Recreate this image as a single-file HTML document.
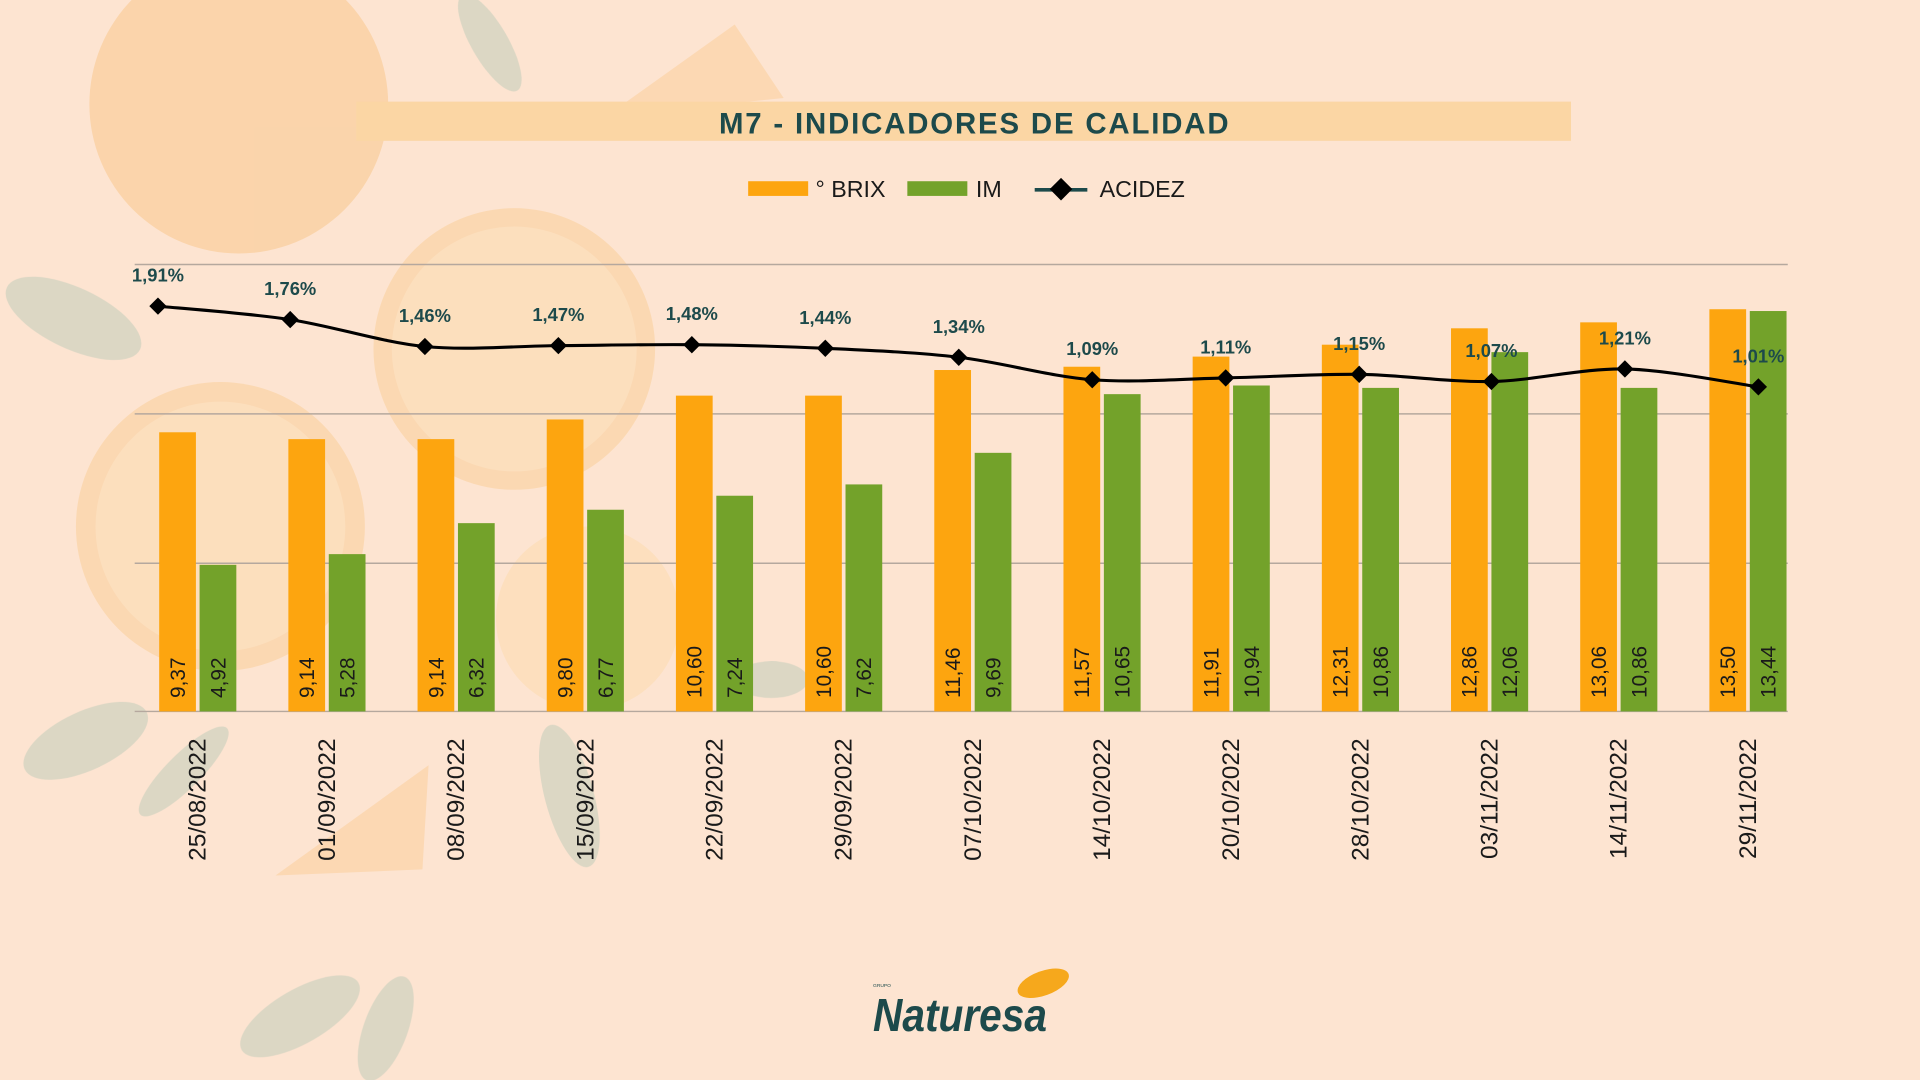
<!DOCTYPE html>
<html><head><meta charset="utf-8"><style>
html,body{margin:0;padding:0;width:1920px;height:1080px;overflow:hidden;background:#fde4d1}
svg{display:block}
text{font-family:"Liberation Sans",sans-serif}
</style></head><body>
<svg width="1920" height="1080" viewBox="0 0 1568 882" xmlns="http://www.w3.org/2000/svg">
<rect width="1568" height="882" fill="#fde4d1"/>
<g opacity="0.35">
<circle cx="195" cy="85" r="122" fill="#f6b865"/>
<circle cx="420" cy="285" r="115" fill="#f9c47a"/><circle cx="420" cy="285" r="100" fill="#fbd69a"/>
<circle cx="180" cy="430" r="118" fill="#f9c47a"/><circle cx="180" cy="430" r="102" fill="#fbd69a"/>
<circle cx="480" cy="505" r="75" fill="#fbd69a"/>
<path d="M495,95 L600,20 L640,80 Z" fill="#f9c47a"/>
<path d="M225,715 L350,625 L345,710 Z" fill="#f9c47a"/>
</g>
<g opacity="0.3">
<ellipse cx="60" cy="260" rx="60" ry="25" fill="#8fb9a8" transform="rotate(25 60 260)"/>
<ellipse cx="70" cy="605" rx="55" ry="24" fill="#8fb9a8" transform="rotate(-25 70 605)"/>
<ellipse cx="150" cy="630" rx="50" ry="14" fill="#8fb9a8" transform="rotate(-45 150 630)"/>
<ellipse cx="245" cy="830" rx="55" ry="22" fill="#8fb9a8" transform="rotate(-30 245 830)"/>
<ellipse cx="315" cy="840" rx="45" ry="18" fill="#8fb9a8" transform="rotate(-70 315 840)"/>
<ellipse cx="465" cy="650" rx="60" ry="20" fill="#8fb9a8" transform="rotate(75 465 650)"/>
<ellipse cx="400" cy="35" rx="45" ry="15" fill="#8fb9a8" transform="rotate(60 400 35)"/>
<ellipse cx="630" cy="555" rx="30" ry="15" fill="#8fb9a8"/>
</g>
<rect x="291" y="83" width="992" height="32" fill="#fbd6a4"/>
<text x="796" y="109" text-anchor="middle" font-size="24" font-weight="bold" fill="#1d4a4b" letter-spacing="1.5">M7 - INDICADORES DE CALIDAD</text>
<rect x="611" y="148" width="49" height="12" fill="#fda50f"/>
<text x="666" y="161" font-size="19" fill="#1a1a1a">° BRIX</text>
<rect x="741" y="148" width="49" height="12" fill="#73a22a"/>
<text x="797" y="161" font-size="19" fill="#1a1a1a">IM</text>
<line x1="845" y1="155" x2="888" y2="155" stroke="#1d4a4b" stroke-width="3"/>
<rect x="860" y="148" width="13" height="13" fill="#000" transform="rotate(45 866.5 154.5)"/>
<text x="898" y="161" font-size="19" fill="#1a1a1a">ACIDEZ</text>
<g stroke="#b5a89e" stroke-width="1.2">
<line x1="110" y1="216" x2="1460" y2="216"/><line x1="110" y1="338" x2="1460" y2="338"/>
<line x1="110" y1="460" x2="1460" y2="460"/><line x1="110" y1="581" x2="1460" y2="581"/>
</g>
<g id="bars"></g>
<path id="line" fill="none" stroke="#000" stroke-width="2.5"/>
<g id="pts"></g>
<text x="713" y="806" font-size="4" fill="#1d4a4b">GRUPO</text>
<text x="713" y="842" font-family="Liberation Serif,serif" font-style="italic" font-weight="bold" font-size="38" fill="#1d4a4b" textLength="142" lengthAdjust="spacingAndGlyphs">Naturesa</text>
<ellipse cx="852" cy="803" rx="22" ry="10" fill="#f6a81c" transform="rotate(-20 852 803)"/>
</svg>
<script>
const brix=[9.37,9.14,9.14,9.80,10.60,10.60,11.46,11.57,11.91,12.31,12.86,13.06,13.50];
const im=[4.92,5.28,6.32,6.77,7.24,7.62,9.69,10.65,10.94,10.86,12.06,10.86,13.44];
const imh=[4.92,5.28,6.32,6.77,7.24,7.62,8.68,10.65,10.94,10.86,12.06,10.86,13.44];
const ac=[1.91,1.76,1.46,1.47,1.48,1.44,1.34,1.09,1.11,1.15,1.07,1.21,1.01];
const dx=[129,237,347,456,565,674,783,892,1001,1110,1218,1327,1436];
const dates=["25/08/2022","01/09/2022","08/09/2022","15/09/2022","22/09/2022","29/09/2022","07/10/2022","14/10/2022","20/10/2022","28/10/2022","03/11/2022","14/11/2022","29/11/2022"];
let h="";const f=v=>v.toFixed(2).replace(".",",");
for(let i=0;i<13;i++){
 const x=130+i*105.5,k=24.33;
 const hb=brix[i]*k,hi=imh[i]*k;
 h+=`<rect x="${x}" y="${581-hb}" width="30" height="${hb}" fill="#fda50f"/>`;
 h+=`<rect x="${x+33}" y="${581-hi}" width="30" height="${hi}" fill="#73a22a"/>`;
 h+=`<text transform="translate(${x+21},570) rotate(-90)" font-size="17" fill="#1a1a1a">${f(brix[i])}</text>`;
 h+=`<text transform="translate(${x+54},570) rotate(-90)" font-size="17" fill="#1a1a1a">${f(im[i])}</text>`;
 h+=`<text transform="translate(${x+38},603) rotate(-90)" font-size="20" text-anchor="end" fill="#1a1a1a">${dates[i]}</text>`;
}
document.getElementById("bars").innerHTML=h;
const P=ac.map((v,i)=>[dx[i],250+(1.91-v)*73.3]);
let d="M"+P[0][0]+","+P[0][1];
for(let i=0;i<12;i++){const p0=P[Math.max(0,i-1)],p1=P[i],p2=P[i+1],p3=P[Math.min(12,i+2)];const t=0.16;
 d+=` C${p1[0]+(p2[0]-p0[0])*t},${p1[1]+(p2[1]-p0[1])*t} ${p2[0]-(p3[0]-p1[0])*t},${p2[1]-(p3[1]-p1[1])*t} ${p2[0]},${p2[1]}`;}
document.getElementById("line").setAttribute("d",d);
let pts="";
for(let i=0;i<13;i++){const [x,y]=P[i];
 pts+=`<rect x="${x-5}" y="${y-5}" width="10" height="10" fill="#000" transform="rotate(45 ${x} ${y})"/>`;
 pts+=`<text x="${x}" y="${y-20}" text-anchor="middle" font-size="15" font-weight="bold" fill="#1d4a4b">${ac[i].toFixed(2).replace(".",",")}%</text>`;}
document.getElementById("pts").innerHTML=pts;
</script>
</body></html>
